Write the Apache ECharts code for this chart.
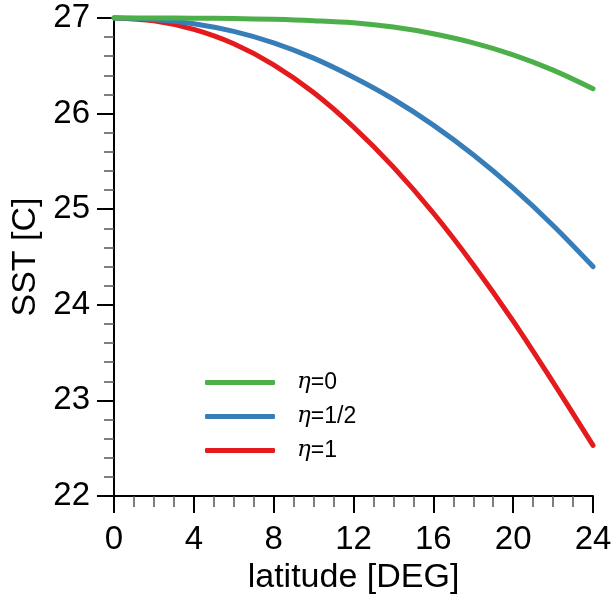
<!DOCTYPE html>
<html>
<head>
<meta charset="utf-8">
<script src="https://cdn.jsdelivr.net/npm/echarts@6/dist/echarts.min.js"></script>
<style>
html,body{margin:0;padding:0;background:#fff;overflow:hidden;}
#chart{width:616px;height:594px;}
</style>
</head>
<body>
<div id="chart"></div>
<script>
// latitude [DEG]
const latitude = [0, 2, 4, 6, 8, 10, 12, 14, 16, 18, 20, 22, 24];
// SST [C] for each curve
const sstEta0    = [27.00, 27.00, 26.998, 26.994, 26.986, 26.972, 26.95, 26.905, 26.835, 26.74, 26.615, 26.455, 26.26];
const sstEtaHalf = [27.00, 26.985, 26.94, 26.86, 26.74, 26.58, 26.38, 26.15, 25.88, 25.57, 25.22, 24.83, 24.40];
const sstEta1    = [27.00, 26.97, 26.88, 26.73, 26.51, 26.22, 25.86, 25.44, 24.96, 24.42, 23.83, 23.19, 22.53];
const seriesNames = ['η=0', 'η=1/2', 'η=1'];
const seriesColors = ['#4daf4a', '#377eb8', '#e41a1c'];
const xTickLabels = [0, 4, 8, 12, 16, 20, 24];
const yTickLabels = [22, 23, 24, 25, 26, 27];

const zip = (xs, ys) => xs.map((x, i) => [x, ys[i]]);
const allData = [sstEta0, sstEtaHalf, sstEta1];

const FONT = '"Liberation Sans", Arial, Helvetica, sans-serif';
const chart = echarts.init(document.getElementById('chart'), null, {renderer: 'canvas'});

const series = [2, 1, 0].map(k => ({
  name: seriesNames[k],
  type: 'line',
  data: zip(latitude, allData[k]),
  smooth: 0.35,
  showSymbol: false,
  symbol: 'none',
  clip: false,
  lineStyle: {color: seriesColors[k], width: 5, cap: 'round', join: 'round'},
  itemStyle: {color: seriesColors[k]},
  z: 3 + (2 - k)
}));

chart.setOption({
  animation: false,
  backgroundColor: '#ffffff',
  grid: {left: 114, right: 23, top: 18, bottom: 98, containLabel: false, outerBoundsMode: 'none'},
  legend: {
    data: seriesNames,
    orient: 'vertical',
    left: 200,
    top: 366,
    icon: 'roundRect',
    itemWidth: 70,
    itemHeight: 5,
    itemGap: 11,
    formatter: function (name) {
      return '{i|η}{t|' + name.slice(1) + '}';
    },
    textStyle: {
      padding: [0, 0, 0, 17],
      rich: {
        i: {fontFamily: '"DejaVu Serif", serif', fontStyle: 'italic', fontSize: 23, color: '#000'},
        t: {fontFamily: FONT, fontSize: 23, color: '#000'}
      }
    }
  },
  xAxis: {
    type: 'value',
    min: xTickLabels[0],
    max: xTickLabels[xTickLabels.length - 1],
    interval: 4,
    name: 'latitude [DEG]',
    nameLocation: 'middle',
    nameGap: 57,
    nameTextStyle: {fontFamily: FONT, fontSize: 34, color: '#000'},
    axisLine: {show: true, onZero: false, lineStyle: {color: '#000', width: 2}},
    axisTick: {show: true, inside: false, length: 17, lineStyle: {color: '#000', width: 2}},
    minorTick: {show: true, splitNumber: 4, length: 11, lineStyle: {color: '#555', width: 1.5}},
    splitLine: {show: false},
    axisLabel: {fontFamily: FONT, fontSize: 33, color: '#000', margin: 27,
      formatter: v => String(v)}
  },
  yAxis: {
    type: 'value',
    min: yTickLabels[0],
    max: yTickLabels[yTickLabels.length - 1],
    interval: 1,
    name: 'SST [C]',
    nameLocation: 'middle',
    nameGap: 57,
    nameTextStyle: {fontFamily: FONT, fontSize: 34, color: '#000'},
    axisLine: {show: true, onZero: false, lineStyle: {color: '#000', width: 2}},
    axisTick: {show: true, inside: false, length: 17, lineStyle: {color: '#000', width: 2}},
    minorTick: {show: true, splitNumber: 5, length: 10, lineStyle: {color: '#555', width: 1.5}},
    splitLine: {show: false},
    axisLabel: {fontFamily: FONT, fontSize: 33, color: '#000', margin: 24,
      formatter: v => String(v)}
  },
  series: series
});
</script>
</body>
</html>
